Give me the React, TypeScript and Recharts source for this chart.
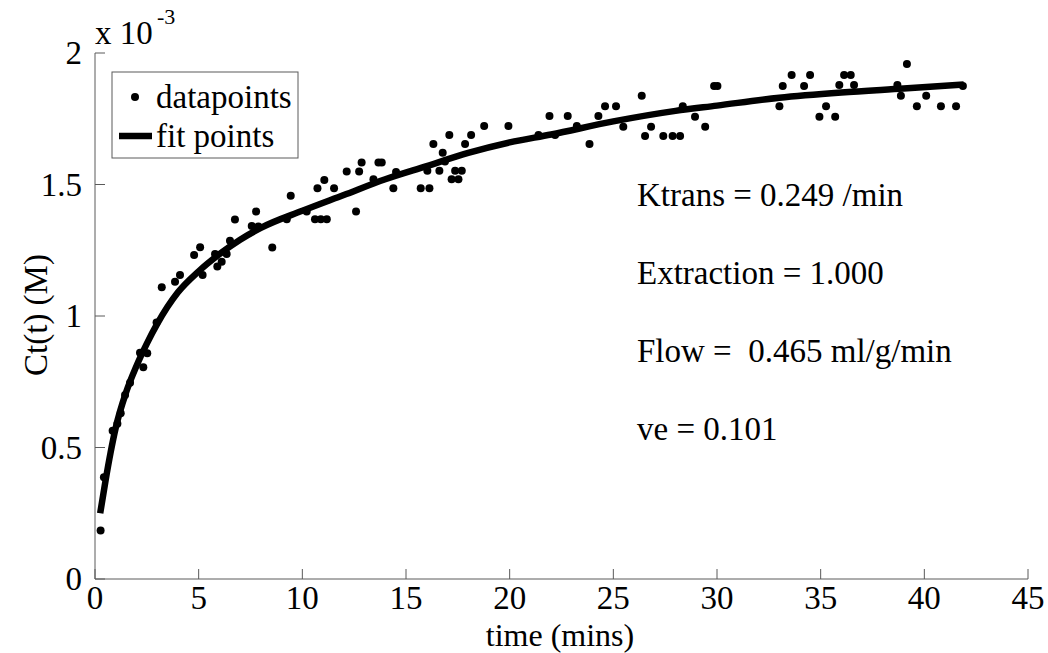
import { ComposedChart, Scatter, Line, XAxis, YAxis } from 'recharts';

// Measured data points (time in mins, concentration in 1e-3 M)
const dataTimes = [
  0.27, 0.43, 0.85, 1.08, 1.24, 1.45, 1.69, 2.17, 2.33, 2.52, 2.97, 3.22, 3.86,
  4.1, 4.78, 5.07, 5.19, 5.79, 5.9, 6.11, 6.35, 6.51, 6.75, 7.56, 7.77, 7.88,
  8.55, 9.25, 9.44, 10.21, 10.61, 10.73, 10.89, 11.06, 11.18, 11.53, 12.14,
  12.59, 12.74, 12.86, 13.43, 13.67, 13.83, 14.39, 14.52, 15.71, 16.03, 16.13,
  16.32, 16.61, 16.77, 16.88, 17.09, 17.2, 17.37, 17.53, 17.69, 17.85, 18.14,
  18.77, 19.94, 21.39, 21.92, 22.19, 22.8, 23.24, 23.85, 24.28, 24.6, 25.13,
  25.48, 26.37, 26.53, 26.82, 27.41, 27.86, 28.22, 28.35, 28.94, 29.43, 29.86,
  30.02, 33.01, 33.17, 33.6, 34.2, 34.49, 34.94, 35.26, 35.7, 35.9, 36.13,
  36.45, 36.61, 38.7, 38.87, 39.16, 39.64, 40.09, 40.8, 41.53, 41.86,
];
const dataValues = [
  0.184, 0.387, 0.564, 0.59, 0.63, 0.7, 0.746, 0.86, 0.805, 0.858, 0.975, 1.109,
  1.13, 1.156, 1.232, 1.261, 1.156, 1.236, 1.188, 1.206, 1.236, 1.286, 1.367,
  1.342, 1.397, 1.34, 1.26, 1.368, 1.457, 1.397, 1.368, 1.486, 1.368, 1.517,
  1.368, 1.486, 1.549, 1.397, 1.549, 1.584, 1.52, 1.584, 1.584, 1.486, 1.548,
  1.486, 1.552, 1.486, 1.654, 1.552, 1.621, 1.587, 1.688, 1.52, 1.552, 1.52,
  1.552, 1.654, 1.688, 1.722, 1.722, 1.688, 1.76, 1.688, 1.76, 1.722, 1.654,
  1.76, 1.798, 1.798, 1.72, 1.837, 1.684, 1.72, 1.684, 1.684, 1.684, 1.798,
  1.758, 1.72, 1.875, 1.875, 1.798, 1.875, 1.916, 1.875, 1.916, 1.758, 1.798,
  1.758, 1.878, 1.916, 1.916, 1.878, 1.878, 1.837, 1.958, 1.798, 1.837, 1.798,
  1.798, 1.875,
];

// Fitted curve
const fitTimes = [
  0.25, 0.5, 0.75, 1, 1.5, 2, 2.5, 3, 4, 5, 6, 7, 8, 10, 12, 14, 16, 18, 20, 22,
  25, 28, 30, 33, 36, 39, 41.9,
];
const fitValues = [
  0.25, 0.37, 0.48, 0.575, 0.71, 0.81, 0.895, 0.97, 1.09, 1.17, 1.235, 1.29,
  1.335, 1.4, 1.46, 1.52, 1.57, 1.62, 1.66, 1.69, 1.74, 1.78, 1.8, 1.83, 1.85,
  1.865, 1.88,
];

const xTicks = [0, 5, 10, 15, 20, 25, 30, 35, 40, 45];
const yTicks = [0, 0.5, 1, 1.5, 2];
const yTickLabels = ['0', '0.5', '1', '1.5', '2'];

const annotations = [
  'Ktrans = 0.249 /min',
  'Extraction = 1.000',
  'Flow =  0.465 ml/g/min',
  've = 0.101',
];

const scatterData = dataTimes.map((t, i) => ({ t, v: dataValues[i] }));
const fitData = fitTimes.map((t, i) => ({ t, v: fitValues[i] }));

const W = 1048;
const H = 653;
const PLOT_LEFT = 95;
const PLOT_RIGHT = 1028;
const PLOT_TOP = 53;
const PLOT_BOTTOM = 579;
const TICK_LEN = 10;
const FONT = "'Liberation Serif', 'Times New Roman', 'DejaVu Serif', serif";
const AXIS_COLOR = '#5a5a5a';

// every text gets the serif font through style, so nothing overrides it
const txt: React.CSSProperties = { fontFamily: FONT, fontSize: 33, fill: '#000' };

const BottomTick = (props: any) => {
  const { x, payload } = props;
  return (
    <g>
      <line x1={x} x2={x} y1={PLOT_BOTTOM} y2={PLOT_BOTTOM - TICK_LEN} stroke={AXIS_COLOR} />
      <text x={x} y={609} textAnchor="middle" style={txt}>
        {payload.value}
      </text>
    </g>
  );
};

const TopTick = (props: any) => {
  const { x } = props;
  return <line x1={x} x2={x} y1={PLOT_TOP} y2={PLOT_TOP + TICK_LEN} stroke={AXIS_COLOR} />;
};

const LeftTick = (props: any) => {
  const { y, payload } = props;
  const idx = yTicks.indexOf(payload.value);
  return (
    <g>
      <line x1={PLOT_LEFT} x2={PLOT_LEFT + TICK_LEN} y1={y} y2={y} stroke={AXIS_COLOR} />
      <text x={PLOT_LEFT - 13} y={y + 11} textAnchor="end" style={txt}>
        {yTickLabels[idx]}
      </text>
    </g>
  );
};

const RightTick = (props: any) => {
  const { y } = props;
  return <line x1={PLOT_RIGHT} x2={PLOT_RIGHT - TICK_LEN} y1={y} y2={y} stroke={AXIS_COLOR} />;
};

const Dot = (props: any) => {
  const { cx, cy } = props;
  return <circle cx={cx} cy={cy} r={4} fill="#000" />;
};

export default function App() {
  return (
    <div style={{ position: 'absolute', left: 0, top: 0, width: W, height: H, background: '#fff' }}>
      <ComposedChart
        width={W}
        height={H}
        margin={{ top: PLOT_TOP, right: W - PLOT_RIGHT, bottom: 0, left: 0 }}
        style={{ fontFamily: FONT }}
      >
        <XAxis
          xAxisId="b"
          dataKey="t"
          type="number"
          domain={[0, 45]}
          ticks={xTicks}
          interval={0}
          height={H - PLOT_BOTTOM}
          tickLine={false}
          tick={<BottomTick />}
          axisLine={{ stroke: AXIS_COLOR }}
          allowDataOverflow
        />
        <XAxis
          xAxisId="top"
          orientation="top"
          type="number"
          domain={[0, 45]}
          ticks={xTicks}
          interval={0}
          height={0}
          tickLine={false}
          tick={<TopTick />}
          axisLine={{ stroke: AXIS_COLOR }}
          allowDataOverflow
        />
        <YAxis
          yAxisId="l"
          type="number"
          domain={[0, 2]}
          ticks={yTicks}
          interval={0}
          width={PLOT_LEFT}
          tickLine={false}
          tick={<LeftTick />}
          axisLine={{ stroke: AXIS_COLOR }}
          allowDataOverflow
        />
        <YAxis
          yAxisId="r"
          orientation="right"
          type="number"
          domain={[0, 2]}
          ticks={yTicks}
          interval={0}
          width={0}
          tickLine={false}
          tick={<RightTick />}
          axisLine={{ stroke: AXIS_COLOR }}
          allowDataOverflow
        />
        <Scatter
          xAxisId="b"
          yAxisId="l"
          data={scatterData}
          dataKey="v"
          shape={<Dot />}
          isAnimationActive={false}
        />
        <Line
          xAxisId="b"
          yAxisId="l"
          data={fitData}
          dataKey="v"
          type="monotone"
          stroke="#000"
          strokeWidth={6.5}
          dot={false}
          activeDot={false}
          isAnimationActive={false}
        />

        {/* axis labels */}
        <text x={560} y={646} textAnchor="middle" style={{ ...txt, fontSize: 32 }}>
          time (mins)
        </text>
        <text x={0} y={0} transform="translate(47, 315) rotate(-90)" textAnchor="middle" style={txt}>
          Ct(t) (M)
        </text>
        <text x={95} y={44} style={txt}>
          x 10
        </text>
        <text x={157} y={24} style={{ ...txt, fontSize: 22 }}>
          -3
        </text>

        {/* legend */}
        <rect x={112} y={72} width={186} height={86} fill="#fff" stroke={AXIS_COLOR} />
        <circle cx={135} cy={97} r={4} fill="#000" />
        <text x={156} y={108} style={txt}>
          datapoints
        </text>
        <line x1={119} x2={152} y1={136} y2={136} stroke="#000" strokeWidth={6.5} />
        <text x={156} y={147} style={txt}>
          fit points
        </text>

        {/* fit parameters */}
        {annotations.map((a, i) => (
          <text key={a} x={637} y={206 + i * 78} style={{ ...txt, whiteSpace: 'pre' }}>
            {a}
          </text>
        ))}
      </ComposedChart>
    </div>
  );
}
